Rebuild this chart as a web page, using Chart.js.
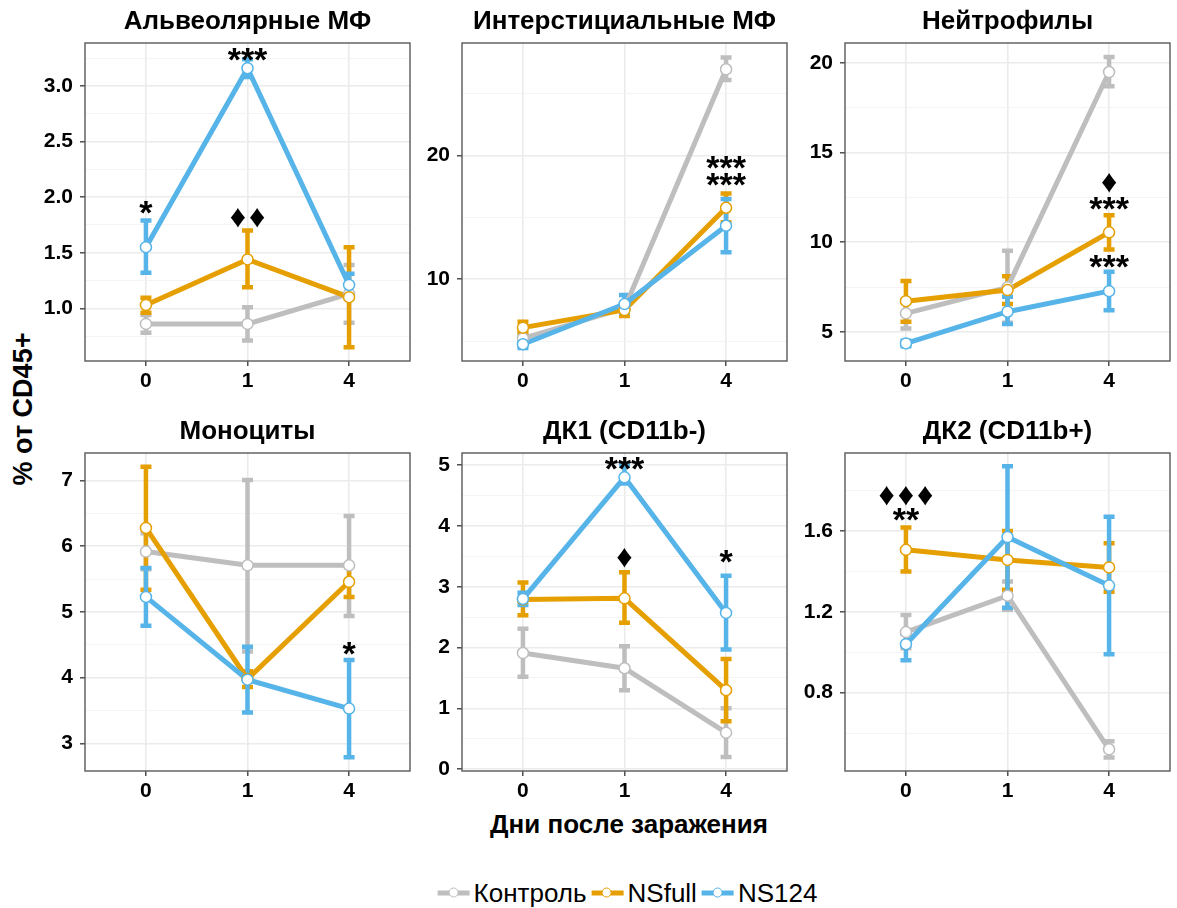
<!DOCTYPE html>
<html><head><meta charset="utf-8">
<script src="https://cdn.jsdelivr.net/npm/chart.js@4"></script>
<style>
body{margin:0;background:#fff;width:1177px;height:908px;position:relative;overflow:hidden;font-family:"Liberation Sans",Arial,sans-serif;color:#000}
canvas{position:absolute}
#ytitle{position:absolute;left:23px;top:409px;transform:translate(-50%,-50%) rotate(-90deg);font-weight:bold;font-size:27px;white-space:nowrap}
#xtitle{position:absolute;left:629px;top:824px;transform:translate(-50%,-50%);font-weight:bold;font-size:26px;white-space:nowrap}
#legend{position:absolute;left:630px;top:893px;transform:translate(-50%,-50%);display:flex;align-items:center;font-size:26px;white-space:nowrap}
.item{display:flex;align-items:center;margin-right:5px}
.sym{position:relative;width:32px;height:11px;margin-right:4px}
.sym .ln{position:absolute;left:0;right:0;top:3px;height:5px}
.sym .pt{position:absolute;left:10.5px;top:0;width:8px;height:8px;border-radius:50%;background:#fff;border:1.5px solid}
</style></head><body>
<div id="ytitle">% от CD45+</div>
<div id="xtitle">Дни после заражения</div>
<div id="legend"></div>
<script>
// ---------- shared ----------
const days = ['0', '1', '4'];
const seriesNames = ['Контроль', 'NSfull', 'NS124'];
const seriesColors = ['#BEBEBE', '#E69F00', '#56B4E9'];
const panelTitles = ['Альвеолярные МФ', 'Интерстициальные МФ', 'Нейтрофилы', 'Моноциты', 'ДК1 (CD11b-)', 'ДК2 (CD11b+)'];

// ---------- Альвеолярные МФ ----------
const alvControl = [0.86, 0.86, 1.13];
const alvControlLo = [0.78, 0.71, 0.87];
const alvControlHi = [0.94, 1.01, 1.39];
const alvFull = [1.03, 1.44, 1.10];
const alvFullLo = [0.96, 1.19, 0.65];
const alvFullHi = [1.095, 1.70, 1.55];
const alvNS124 = [1.55, 3.16, 1.21];
const alvNS124Lo = [1.32, 3.08, 1.11];
const alvNS124Hi = [1.79, 3.24, 1.31];
const alvTicks = [1.0, 1.5, 2.0, 2.5, 3.0];
const alvTickLabels = ['1.0', '1.5', '2.0', '2.5', '3.0'];
const alvMinor = [0.75, 1.25, 1.75, 2.25, 2.75, 3.25];
const alvNotes = [[0, 1.906, '*'], [1, 3.288, '***'], [1, 1.817, '♦♦']];

// ---------- Интерстициальные МФ ----------
const intControl = [5.24, 7.66, 26.94];
const intControlLo = [4.9, 7.3, 26.07];
const intControlHi = [5.6, 8.0, 27.9];
const intFull = [6.1, 7.52, 15.77];
const intFullLo = [5.7, 7.04, 14.6];
const intFullHi = [6.58, 8.0, 16.93];
const intNS124 = [4.76, 8.0, 14.32];
const intNS124Lo = [4.45, 7.3, 12.18];
const intNS124Hi = [5.05, 8.73, 16.47];
const intTicks = [10, 20];
const intTickLabels = ['10', '20'];
const intMinor = [5, 15, 25];
const intNotes = [[2, 19.42, '***'], [2, 18.09, '***']];

// ---------- Нейтрофилы ----------
const neuControl = [6.03, 7.48, 19.5];
const neuControlLo = [5.19, 5.5, 18.7];
const neuControlHi = [6.8, 9.52, 20.34];
const neuFull = [6.71, 7.33, 10.55];
const neuFullLo = [5.56, 6.55, 9.6];
const neuFullHi = [7.83, 8.1, 11.5];
const neuNS124 = [4.35, 6.12, 7.27];
const neuNS124Lo = [4.2, 5.43, 6.2];
const neuNS124Hi = [4.5, 6.95, 8.35];
const neuTicks = [5, 10, 15, 20];
const neuTickLabels = ['5', '10', '15', '20'];
const neuMinor = [7.5, 12.5, 17.5];
const neuNotes = [[2, 13.34, '♦'], [2, 12.14, '***'], [2, 8.92, '***']];

// ---------- Моноциты ----------
const monControl = [5.92, 5.71, 5.71];
const monControlLo = [5.65, 4.4, 4.94];
const monControlHi = [6.2, 7.01, 6.46];
const monFull = [6.28, 3.98, 5.46];
const monFullLo = [5.34, 3.86, 5.23];
const monFullHi = [7.21, 4.1, 5.71];
const monNS124 = [5.23, 3.97, 3.53];
const monNS124Lo = [4.79, 3.47, 2.79];
const monNS124Hi = [5.67, 4.47, 4.27];
const monTicks = [3, 4, 5, 6, 7];
const monTickLabels = ['3', '4', '5', '6', '7'];
const monMinor = [3.5, 4.5, 5.5, 6.5];
const monNotes = [[2, 4.45, '*']];

// ---------- ДК1 (CD11b-) ----------
const dc1Control = [1.91, 1.66, 0.6];
const dc1ControlLo = [1.52, 1.3, 0.2];
const dc1ControlHi = [2.31, 2.02, 1.0];
const dc1Full = [2.79, 2.81, 1.3];
const dc1FullLo = [2.53, 2.41, 0.79];
const dc1FullHi = [3.07, 3.24, 1.81];
const dc1NS124 = [2.8, 4.8, 2.57];
const dc1NS124Lo = [2.7, 4.7, 1.97];
const dc1NS124Hi = [2.9, 5.0, 3.18];
const dc1Ticks = [0, 1, 2, 3, 4, 5];
const dc1TickLabels = ['0', '1', '2', '3', '4', '5'];
const dc1Minor = [0.5, 1.5, 2.5, 3.5, 4.5];
const dc1Notes = [[1, 5.03, '***'], [1, 3.48, '♦'], [2, 3.49, '*']];

// ---------- ДК2 (CD11b+) ----------
const dc2Control = [1.10, 1.28, 0.52];
const dc2ControlLo = [1.02, 1.21, 0.48];
const dc2ControlHi = [1.185, 1.35, 0.56];
const dc2Full = [1.507, 1.457, 1.42];
const dc2FullLo = [1.40, 1.31, 1.30];
const dc2FullHi = [1.618, 1.60, 1.54];
const dc2NS124 = [1.04, 1.57, 1.33];
const dc2NS124Lo = [0.96, 1.22, 0.99];
const dc2NS124Hi = [1.09, 1.92, 1.67];
const dc2Ticks = [0.8, 1.2, 1.6];
const dc2TickLabels = ['0.8', '1.2', '1.6'];
const dc2Minor = [0.6, 1.0, 1.4, 1.8];
const dc2Notes = [[0, 1.774, '♦♦♦'], [0, 1.683, '**']];

const panels = [
  {title: panelTitles[0], means: [alvControl, alvFull, alvNS124], lo: [alvControlLo, alvFullLo, alvNS124Lo], hi: [alvControlHi, alvFullHi, alvNS124Hi], yMin: 0.526, yMax: 3.387, major: alvTicks, labels: alvTickLabels, minor: alvMinor, notes: alvNotes},
  {title: panelTitles[1], means: [intControl, intFull, intNS124], lo: [intControlLo, intFullLo, intNS124Lo], hi: [intControlHi, intFullHi, intNS124Hi], yMin: 3.41, yMax: 29.06, major: intTicks, labels: intTickLabels, minor: intMinor, notes: intNotes},
  {title: panelTitles[2], means: [neuControl, neuFull, neuNS124], lo: [neuControlLo, neuFullLo, neuNS124Lo], hi: [neuControlHi, neuFullHi, neuNS124Hi], yMin: 3.37, yMax: 21.12, major: neuTicks, labels: neuTickLabels, minor: neuMinor, notes: neuNotes},
  {title: panelTitles[3], means: [monControl, monFull, monNS124], lo: [monControlLo, monFullLo, monNS124Lo], hi: [monControlHi, monFullHi, monNS124Hi], yMin: 2.58, yMax: 7.42, major: monTicks, labels: monTickLabels, minor: monMinor, notes: monNotes},
  {title: panelTitles[4], means: [dc1Control, dc1Full, dc1NS124], lo: [dc1ControlLo, dc1FullLo, dc1NS124Lo], hi: [dc1ControlHi, dc1FullHi, dc1NS124Hi], yMin: -0.03, yMax: 5.2, major: dc1Ticks, labels: dc1TickLabels, minor: dc1Minor, notes: dc1Notes},
  {title: panelTitles[5], means: [dc2Control, dc2Full, dc2NS124], lo: [dc2ControlLo, dc2FullLo, dc2NS124Lo], hi: [dc2ControlHi, dc2FullHi, dc2NS124Hi], yMin: 0.4126, yMax: 1.986, major: dc2Ticks, labels: dc2TickLabels, minor: dc2Minor, notes: dc2Notes}
];

// ---------- layout ----------
const canvasLeft = [0, 377, 760, 0, 377, 760];
const canvasTop = [0, 0, 0, 410, 410, 410];
const CW = 417, CH = 393;
const FONT = '"Liberation Sans", Arial, sans-serif';

function makeChart(p, idx) {
  const cv = document.createElement('canvas');
  cv.width = CW; cv.height = CH;
  cv.style.left = canvasLeft[idx] + 'px';
  cv.style.top = canvasTop[idx] + 'px';
  cv.style.width = CW + 'px'; cv.style.height = CH + 'px';
  document.body.appendChild(cv);

  const lineSets = p.means.map((m, s) => ({
    label: seriesNames[s],
    data: m.map((v, i) => ({x: i, y: v})),
    borderColor: seriesColors[s], borderWidth: 5, pointRadius: 0,
    fill: false, tension: 0, order: 10 - s
  }));
  const pointSets = p.means.map((m, s) => ({
    label: seriesNames[s] + ' pts',
    data: m.map((v, i) => ({x: i, y: v})),
    showLine: false, pointRadius: 5.5, pointBorderWidth: 1.5,
    pointBackgroundColor: '#ffffff', pointBorderColor: seriesColors[s], order: 5 - s
  }));

  const errorBars = {
    id: 'errbars' + idx,
    beforeDatasetsDraw(chart) {
      const xs = chart.scales.x, ys = chart.scales.y, ctx = chart.ctx;
      ctx.save();
      ctx.lineCap = 'butt';
      p.lo.forEach((loArr, s) => {
        ctx.strokeStyle = seriesColors[s];
        ctx.lineWidth = 4.5;
        loArr.forEach((lo, i) => {
          const hi = p.hi[s][i];
          const x = xs.getPixelForValue(i);
          const y1 = ys.getPixelForValue(lo), y2 = ys.getPixelForValue(hi);
          ctx.beginPath();
          ctx.moveTo(x, y1); ctx.lineTo(x, y2);
          ctx.moveTo(x - 5.5, y1); ctx.lineTo(x + 5.5, y1);
          ctx.moveTo(x - 5.5, y2); ctx.lineTo(x + 5.5, y2);
          ctx.stroke();
        });
      });
      ctx.restore();
    }
  };
  const notesAndBorder = {
    id: 'notes' + idx,
    afterDraw(chart) {
      const xs = chart.scales.x, ys = chart.scales.y, ctx = chart.ctx, a = chart.chartArea;
      ctx.save();
      p.notes.forEach(([xi, yv, txt]) => {
        const dia = txt.indexOf('♦') >= 0;
        ctx.font = dia ? '32px ' + FONT : 'bold 34px ' + FONT;
        ctx.letterSpacing = dia ? '3px' : '0px';
        ctx.fillStyle = '#000';
        ctx.textAlign = 'center';
        ctx.textBaseline = 'alphabetic';
        const m = ctx.measureText(txt);
        const px = xs.getPixelForValue(xi) + (dia ? 1.5 : 0), py = ys.getPixelForValue(yv);
        ctx.fillText(txt, px, py + (m.actualBoundingBoxAscent - m.actualBoundingBoxDescent) / 2);
      });
      ctx.letterSpacing = '0px';
      ctx.strokeStyle = '#595959';
      ctx.lineWidth = 1.4;
      ctx.strokeRect(a.left, a.top, a.right - a.left, a.bottom - a.top);
      ctx.restore();
    }
  };

  const yTickObjs = p.major.map((v, k) => ({value: v, isMajor: true, lab: p.labels[k]}))
    .concat(p.minor.map(v => ({value: v, isMajor: false, lab: ''})))
    .sort((a, b) => a.value - b.value);

  new Chart(cv, {
    type: 'line',
    data: {datasets: lineSets.concat(pointSets)},
    options: {
      responsive: false, animation: false, devicePixelRatio: 1,
      layout: {padding: {left: 0, right: 2, top: 0, bottom: 0}},
      plugins: {
        legend: {display: false}, tooltip: {enabled: false},
        title: {display: true, text: p.title, fullSize: false, color: '#000',
          font: {family: FONT, size: 26, weight: 'bold', lineHeight: 1.2},
          padding: {top: 6.4, bottom: 5.4}}
      },
      scales: {
        x: {
          type: 'linear', min: -0.6, max: 2.6,
          afterBuildTicks: sc => { sc.ticks = days.map((d, i) => ({value: i, isMajor: true, lab: d})); },
          afterFit: sc => { sc.height = 32; },
          border: {display: false},
          grid: {color: '#EBEBEB', lineWidth: 1.6, tickColor: '#333333', tickWidth: 1.3, tickLength: 5},
          ticks: {autoSkip: false, maxRotation: 0, padding: 3, color: '#000',
            font: {family: FONT, size: 21, weight: 'bold'},
            callback: (v, i, t) => t[i].lab}
        },
        y: {
          type: 'linear', min: p.yMin, max: p.yMax,
          afterBuildTicks: sc => { sc.ticks = yTickObjs.map(o => Object.assign({}, o)); },
          afterFit: sc => { sc.width = 85; },
          border: {display: false},
          grid: {
            color: c => (c.tick && c.tick.isMajor) ? '#EBEBEB' : '#F3F3F3',
            lineWidth: c => (c.tick && c.tick.isMajor) ? 1.6 : 0.9,
            tickColor: c => (c.tick && c.tick.isMajor) ? '#333333' : 'rgba(0,0,0,0)',
            tickWidth: 1.3, tickLength: 5
          },
          ticks: {autoSkip: false, padding: 7, color: '#000',
            font: {family: FONT, size: 21, weight: 'bold'},
            callback: (v, i, t) => t[i].lab}
        }
      }
    },
    plugins: [errorBars, notesAndBorder]
  });
}
panels.forEach(makeChart);

// ---------- legend ----------
const leg = document.getElementById('legend');
seriesNames.forEach((n, s) => {
  const it = document.createElement('div'); it.className = 'item';
  const sym = document.createElement('div'); sym.className = 'sym';
  const ln = document.createElement('div'); ln.className = 'ln'; ln.style.background = seriesColors[s];
  const pt = document.createElement('div'); pt.className = 'pt'; pt.style.borderColor = seriesColors[s];
  sym.appendChild(ln); sym.appendChild(pt);
  const tx = document.createElement('span'); tx.textContent = n;
  it.appendChild(sym); it.appendChild(tx);
  leg.appendChild(it);
});
</script>
</body></html>
